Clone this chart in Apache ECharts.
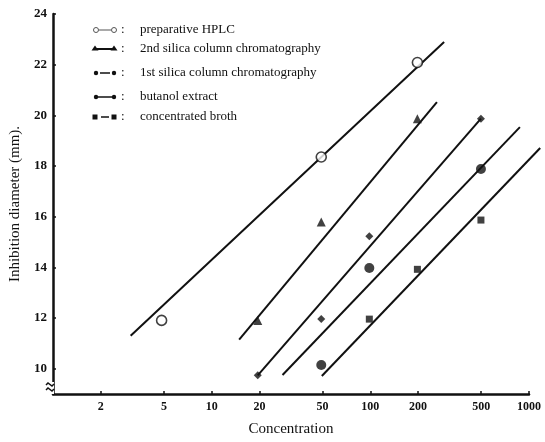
<!DOCTYPE html>
<html><head><meta charset="utf-8">
<script src="https://cdn.jsdelivr.net/npm/echarts@6/dist/echarts.min.js"></script>
<style>html,body{margin:0;padding:0;background:#fff}#c{width:545px;height:442px}</style>
</head><body><div id="c"></div>
<script>
// ---- data ----
const xTicks = [2, 5, 10, 20, 50, 100, 200, 500, 1000];
const yTicks = [10, 12, 14, 16, 18, 20, 22, 24];
const seriesNames = ['preparative HPLC', '2nd silica column chromatography', '1st silica column chromatography', 'butanol extract', 'concentrated broth'];

const hplcX = [5, 50, 200];
const hplcY = [12.0, 18.4, 22.1];
const hplcFitX = [3.2, 294];
const hplcFitY = [11.4, 22.9];

const silica2X = [20, 50, 200];
const silica2Y = [12.0, 15.85, 19.9];
const silica2FitX = [15.3, 265];
const silica2FitY = [11.25, 20.55];

const silica1X = [20, 50, 100, 500];
const silica1Y = [9.85, 12.05, 15.3, 19.9];
const silica1FitX = [20, 500];
const silica1FitY = [9.85, 19.9];

const butanolX = [50, 100, 500];
const butanolY = [10.25, 14.05, 17.93];
const butanolFitX = [28.6, 877];
const butanolFitY = [9.86, 19.57];

const brothX = [100, 200, 500];
const brothY = [12.05, 14.0, 15.93];
const brothFitX = [50.4, 1175];
const brothFitY = [9.82, 18.75];

// ---- chart ----
const INK = '#111';
const SERIF = '"Liberation Serif", "DejaVu Serif", serif';
const zip = (a, b) => a.map((v, i) => [v, b[i]]);

// axis grid (1..1000 spans x 50..529); data grid shares the same log scale but reaches 1200
const AX_L = 50, AX_R = 529, DATA_MAX = 1200;
const pxPerDecade = (AX_R - AX_L) / 3;
const dataRight = 545 - (AX_L + pxPerDecade * Math.log10(DATA_MAX));

function fit(name, xs, ys) {
  return { name: name + ' fit', type: 'line', xAxisIndex: 1, yAxisIndex: 1, data: zip(xs, ys), symbol: 'none', clip: false,
    lineStyle: { color: INK, width: 2 }, silent: true, z: 2 };
}
function pts(name, xs, ys, symbol, size, open) {
  return { name: name, type: 'scatter', xAxisIndex: 1, yAxisIndex: 1, data: zip(xs, ys), symbol: symbol, symbolSize: size, clip: false,
    itemStyle: open ? { color: '#fff', borderColor: INK, borderWidth: 1.6 } : { color: INK }, z: 3 };
}

const chart = echarts.init(document.getElementById('c'), null, { renderer: 'canvas' });

// legend drawn as graphic
const legRows = [30, 49, 73, 97, 117];
const g = [];
function lg(y, kind) {
  const a = 96, b = 114;
  if (kind === 0) {
    g.push({ type: 'line', shape: { x1: a + 3, y1: y, x2: b - 3, y2: y }, style: { stroke: '#555', lineWidth: 1 } });
    [a, b].forEach(x => g.push({ type: 'circle', shape: { cx: x, cy: y, r: 2.5 }, style: { fill: '#fff', stroke: '#555', lineWidth: 1 } }));
  } else if (kind === 1) {
    g.push({ type: 'line', shape: { x1: a, y1: y, x2: b, y2: y }, style: { stroke: INK, lineWidth: 2 } });
    [a - 1, b].forEach(x => g.push({ type: 'polygon', shape: { points: [[x, y - 3.5], [x - 3.5, y + 1.5], [x + 3.5, y + 1.5]] }, style: { fill: INK } }));
  } else if (kind === 2) {
    g.push({ type: 'line', shape: { x1: a + 4, y1: y, x2: b - 4, y2: y }, style: { stroke: INK, lineWidth: 1.5 } });
    [a, b].forEach(x => g.push({ type: 'circle', shape: { cx: x, cy: y, r: 2.2 }, style: { fill: INK } }));
  } else if (kind === 3) {
    g.push({ type: 'line', shape: { x1: a, y1: y, x2: b, y2: y }, style: { stroke: INK, lineWidth: 1.5 } });
    [a, b].forEach(x => g.push({ type: 'circle', shape: { cx: x, cy: y, r: 2.2 }, style: { fill: INK } }));
  } else {
    g.push({ type: 'line', shape: { x1: a + 5, y1: y, x2: b - 5, y2: y }, style: { stroke: INK, lineWidth: 1.5 } });
    [a - 1, b].forEach(x => g.push({ type: 'rect', shape: { x: x - 2.5, y: y - 2.5, width: 5, height: 5 }, style: { fill: INK } }));
  }
  g.push({ type: 'text', x: 121, y: y, style: { text: ':', font: '13px ' + SERIF, fill: INK, verticalAlign: 'middle' } });
}
seriesNames.forEach((n, i) => {
  lg(legRows[i], i);
  g.push({ type: 'text', x: 140, y: legRows[i], style: { text: n, font: '13px ' + SERIF, fill: INK, verticalAlign: 'middle' } });
});
// axis break mark on y axis
g.push({ type: 'rect', shape: { x: 46, y: 382, width: 8, height: 12 }, style: { fill: '#fff' }, z: 100 });
g.push({ type: 'polyline', shape: { points: [[46, 385], [48, 383], [52, 386], [54, 384]] }, style: { stroke: INK, lineWidth: 1.5, fill: null }, z: 101 });
g.push({ type: 'polyline', shape: { points: [[46, 390], [48, 388], [52, 391], [54, 389]] }, style: { stroke: INK, lineWidth: 1.5, fill: null }, z: 101 });

const hiddenAxis = { show: false };
chart.setOption({
  animation: false,
  backgroundColor: '#fff',
  grid: [
    { left: AX_L, right: 545 - AX_R, top: 14, bottom: 45, containLabel: false },
    { left: AX_L, right: dataRight, top: 14, bottom: 45, containLabel: false }
  ],
  xAxis: [{
    gridIndex: 0, type: 'log', min: 1, max: 1000, logBase: 10,
    name: 'Concentration', nameLocation: 'middle', nameGap: 28,
    nameTextStyle: { fontFamily: SERIF, fontSize: 15, color: INK },
    axisLine: { show: true, lineStyle: { color: INK, width: 2.5 } },
    axisTick: { show: true, inside: true, length: 3, customValues: xTicks, lineStyle: { color: INK, width: 1.5 } },
    axisLabel: { customValues: xTicks, formatter: v => String(v), fontFamily: SERIF, fontSize: 12, fontWeight: 'bold', color: INK, margin: 7 },
    splitLine: { show: false }, minorTick: { show: false }
  }, {
    gridIndex: 1, type: 'log', min: 1, max: DATA_MAX, logBase: 10, show: false,
    splitLine: { show: false }
  }],
  yAxis: [{
    gridIndex: 0, type: 'value', min: 9, max: 24,
    name: 'Inhibition diameter (mm).', nameLocation: 'middle', nameGap: 30, nameRotate: 90,
    nameTextStyle: { fontFamily: SERIF, fontSize: 15, color: INK },
    axisLine: { show: true, lineStyle: { color: INK, width: 2.5 } },
    axisTick: { show: true, inside: true, length: 3, customValues: yTicks, lineStyle: { color: INK, width: 1.5 } },
    axisLabel: { customValues: yTicks, fontFamily: SERIF, fontSize: 13, fontWeight: 'bold', color: INK, margin: 6 },
    splitLine: { show: false }
  }, {
    gridIndex: 1, type: 'value', min: 9, max: 24, show: false, splitLine: { show: false }
  }],
  graphic: g,
  series: [
    fit(seriesNames[0], hplcFitX, hplcFitY),
    fit(seriesNames[1], silica2FitX, silica2FitY),
    fit(seriesNames[2], silica1FitX, silica1FitY),
    fit(seriesNames[3], butanolFitX, butanolFitY),
    fit(seriesNames[4], brothFitX, brothFitY),
    pts(seriesNames[0], hplcX, hplcY, 'circle', 10, true),
    pts(seriesNames[1], silica2X, silica2Y, 'triangle', 9, false),
    pts(seriesNames[2], silica1X, silica1Y, 'diamond', 8, false),
    pts(seriesNames[3], butanolX, butanolY, 'circle', 10, false),
    pts(seriesNames[4], brothX, brothY, 'rect', 7, false)
  ]
});
</script></body></html>
